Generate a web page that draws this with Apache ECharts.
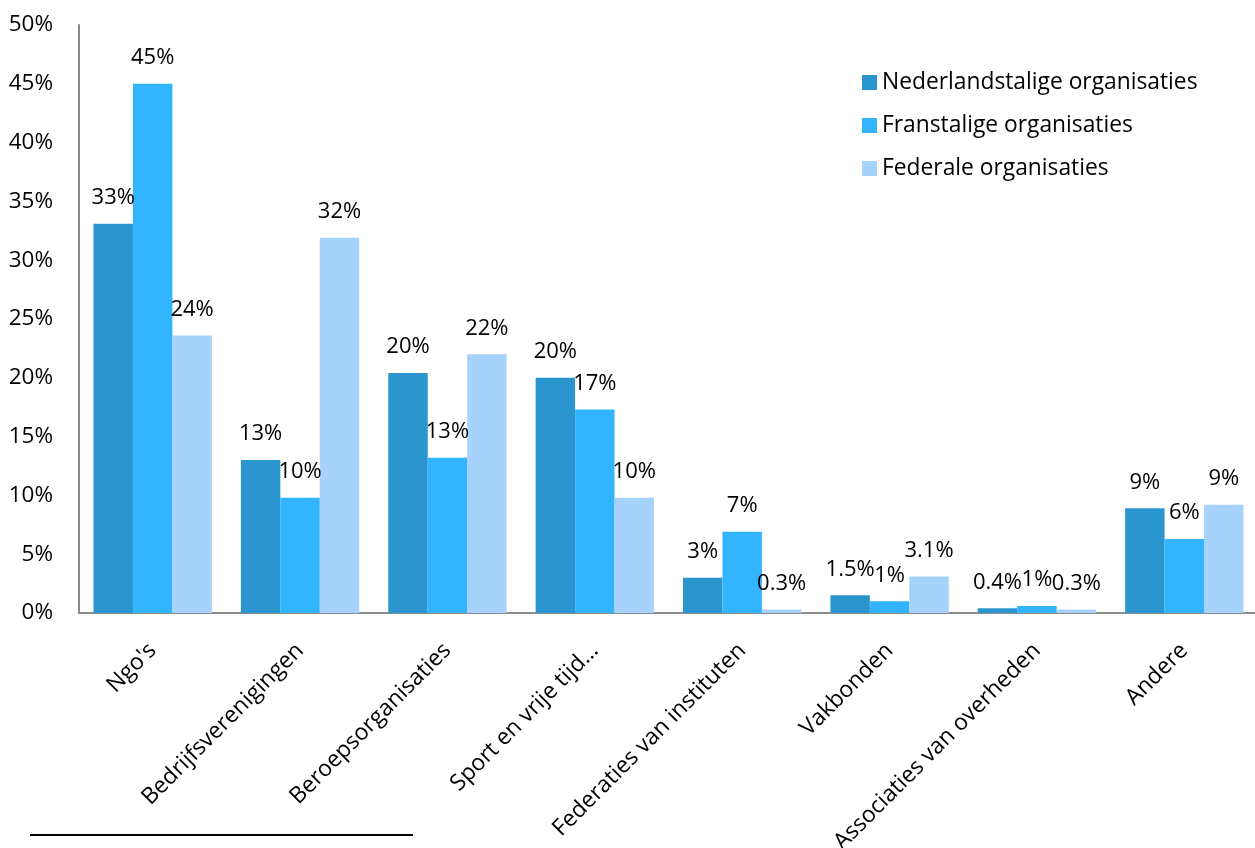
<!DOCTYPE html>
<html>
<head>
<meta charset="utf-8">
<script src="https://cdn.jsdelivr.net/npm/echarts@6/dist/echarts.min.js"></script>
<style>html,body{margin:0;padding:0;background:#fff;}#c{width:1255px;height:848px;}</style>
</head>
<body>
<div id="c"></div>
<script>
var categories = ["Ngo's", "Bedrijfsverenigingen", "Beroepsorganisaties", "Sport en vrije tijd\u2026", "Federaties van instituten", "Vakbonden", "Associaties van overheden", "Andere"];
var seriesNames = ["Nederlandstalige organisaties", "Franstalige organisaties", "Federale organisaties"];
var nlValues = [33.1, 13.0, 20.4, 20.0, 3.0, 1.5, 0.4, 8.9];
var frValues = [45.0, 9.8, 13.2, 17.3, 6.9, 1.0, 0.6, 6.3];
var fedValues = [23.6, 31.9, 22.0, 9.8, 0.3, 3.1, 0.3, 9.2];
var nlLabels = ["33%", "13%", "20%", "20%", "3%", "1.5%", "0.4%", "9%"];
var frLabels = ["45%", "10%", "13%", "17%", "7%", "1%", "1%", "6%"];
var fedLabels = ["24%", "32%", "22%", "10%", "0.3%", "3.1%", "0.3%", "9%"];
var yTicks = ["0%", "5%", "10%", "15%", "20%", "25%", "30%", "35%", "40%", "45%", "50%"];
var colors = ["#2B95D0", "#33B4FF", "#A6D2FC"];
var FONT = "Open Sans";

function mk(i, vals, labels) {
  return {
    name: seriesNames[i],
    type: 'bar',
    data: vals,
    barGap: '0%',
    barCategoryGap: '19.7%',
    itemStyle: { color: colors[i] },
    label: {
      show: true, position: 'top', distance: 15,
      fontFamily: FONT, fontSize: 22, color: '#000',
      formatter: function (p) { return labels[p.dataIndex]; }
    },
    emphasis: { disabled: true }
  };
}

var chart = echarts.init(document.getElementById('c'));
chart.setOption({
  animation: false,
  textStyle: { fontFamily: FONT },
  grid: { left: 79, top: 25, width: 1179, height: 588, containLabel: false, outerBoundsMode: 'none' },
  legend: {
    orient: 'vertical', left: 857, top: 66,
    itemWidth: 15, itemHeight: 15, itemGap: 20,
    icon: 'rect',
    textStyle: { fontFamily: FONT, fontSize: 22.8, color: '#000', padding: [0, 0, 0, 0] },
    data: seriesNames
  },
  xAxis: {
    type: 'category', data: categories,
    axisLine: { lineStyle: { color: '#8c8c8c', width: 2 } },
    axisTick: { show: false },
    axisLabel: { interval: 0, rotate: 45, margin: 34, fontFamily: FONT, fontSize: 22.8, color: '#000' }
  },
  yAxis: {
    type: 'value', min: 0, max: 50, interval: 5,
    axisLine: { show: true, lineStyle: { color: '#8c8c8c', width: 2 } },
    axisTick: { show: false },
    splitLine: { show: false },
    axisLabel: {
      margin: 26, fontFamily: FONT, fontSize: 22.5, color: '#000',
      formatter: function (v) { return yTicks[Math.round(v / 5)]; }
    }
  },
  series: [mk(0, nlValues, nlLabels), mk(1, frValues, frLabels), mk(2, fedValues, fedLabels)],
  graphic: [{
    type: 'line', shape: { x1: 30, y1: 835, x2: 413, y2: 835 },
    style: { stroke: '#000', lineWidth: 2 }
  }]
});
</script>
</body>
</html>
